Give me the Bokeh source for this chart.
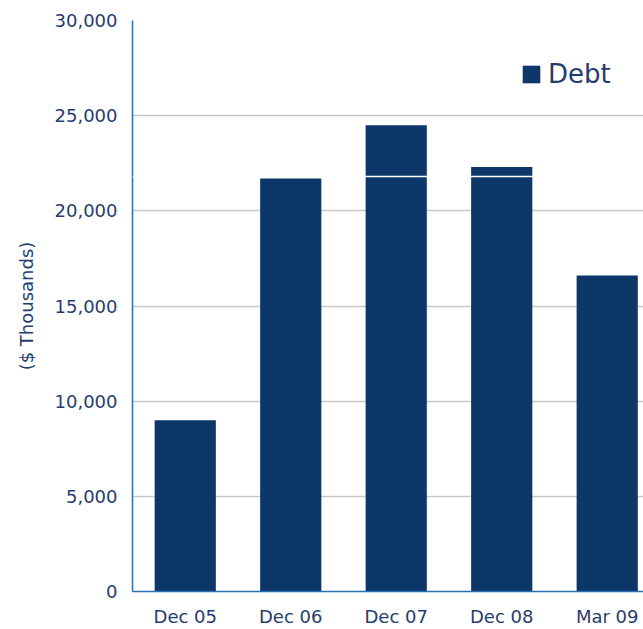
from bokeh.plotting import figure
from bokeh.models import Range1d, FixedTicker, NumeralTickFormatter, Span, Legend, LegendItem, ColumnDataSource
from bokeh.embed import file_html
from bokeh.resources import INLINE

categories = ["Dec 05", "Dec 06", "Dec 07", "Dec 08", "Mar 09"]
debt = [9000, 21700, 24500, 22300, 16600]
y_ticks = [0, 5000, 10000, 15000, 20000, 25000, 30000]

BAR = "#0d3669"
TXT = "#1f3d70"
AXIS = "#2a6fb0"
FONT = "DejaVu Sans"

xs = list(range(len(categories)))
src = ColumnDataSource(dict(x=xs, top=debt, label=categories))

p = figure(width=643, height=629, output_backend="svg", toolbar_location=None,
           x_range=Range1d(-0.5, 4.344), y_range=Range1d(0, 30000),
           min_border_left=132, min_border_right=0, min_border_top=20, min_border_bottom=36)
p.outline_line_color = None
p.background_fill_color = "white"
p.border_fill_color = "white"

r = p.vbar(x="x", top="top", width=0.58, source=src, color=BAR, line_color=None)

# y axis
p.yaxis.ticker = FixedTicker(ticks=y_ticks)
p.yaxis.formatter = NumeralTickFormatter(format="0,0")
p.yaxis.major_tick_line_color = None
p.yaxis.minor_tick_line_color = None
p.yaxis.axis_line_color = AXIS
p.yaxis.axis_line_width = 1.5
p.yaxis.major_label_standoff = 9
p.yaxis.major_label_text_font = FONT
p.yaxis.major_label_text_font_size = "18px"
p.yaxis.major_label_text_color = TXT
p.yaxis.axis_label = "($ Thousands)"
p.yaxis.axis_label_text_font = FONT
p.yaxis.axis_label_text_font_size = "18px"
p.yaxis.axis_label_text_font_style = "normal"
p.yaxis.axis_label_text_color = TXT
p.yaxis.axis_label_standoff = 15

# x axis
p.xaxis.ticker = FixedTicker(ticks=xs)
p.xaxis.major_label_overrides = {i: c for i, c in zip(xs, categories)}
p.xaxis.major_tick_line_color = None
p.xaxis.minor_tick_line_color = None
p.xaxis.axis_line_color = AXIS
p.xaxis.axis_line_width = 1.5
p.xaxis.major_label_standoff = 8
p.xaxis.major_label_text_font = FONT
p.xaxis.major_label_text_font_size = "18px"
p.xaxis.major_label_text_color = TXT

p.xgrid.grid_line_color = None
p.ygrid.ticker = FixedTicker(ticks=y_ticks[1:])
p.ygrid.grid_line_color = "#c8c8c8"
p.ygrid.grid_line_width = 1.5

# thin white seam across the chart, as in the reference
p.add_layout(Span(location=21800, dimension="width", line_color="white", line_width=1.5, level="overlay"))

legend = Legend(items=[LegendItem(label="Debt", renderers=[r])], location=(388, 502),
                border_line_color=None, background_fill_alpha=0,
                label_text_font=FONT, label_text_font_size="26px", label_text_color=TXT,
                glyph_width=22, glyph_height=22, label_standoff=6, padding=0, margin=0)
p.add_layout(legend)

open("out.html", "w").write(file_html(p, INLINE))
